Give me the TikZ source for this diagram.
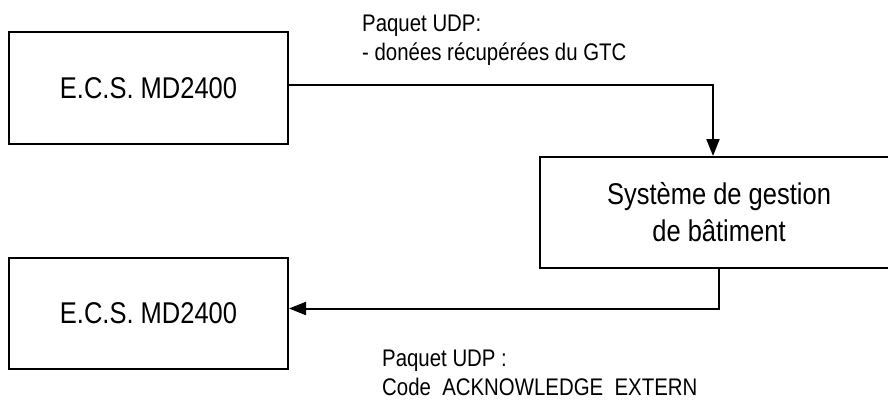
\documentclass[tikz,border=0pt]{standalone}
\usepackage{fontspec}
\setmainfont{Liberation Sans}[FakeStretch=0.85]
\usetikzlibrary{arrows.meta, positioning}

\begin{document}
\begin{tikzpicture}[
  x=1pt, y=-1pt,
  box/.style={
    rectangle,
    draw,
    line width=2pt,
    align=center,
    minimum width=279pt,
    minimum height=111pt,
    font=\fontsize{30}{37}\selectfont
  },
  label/.style={
    anchor=north west,
    inner sep=0pt,
    align=left,
    font=\fontsize{24}{29}\selectfont
  },
  arrow/.style={-{Triangle[length=17pt, width=13pt]}, line width=2pt}
]
\useasboundingbox (0,0) rectangle (888,401);

% Nodes
\node[box] (ecsTop) at (148.5,88) {E.C.S. MD2400};
\node[box, minimum width=358pt] (gestion) at (719,212.5) {Système de gestion\\de bâtiment};
\node[box] (ecsBottom) at (148.5,313.5) {E.C.S. MD2400};

% Arrows
\draw[arrow] ([yshift=3pt]ecsTop.east) -| ([xshift=-6pt]gestion.north);
\draw[arrow] (gestion.south) |- ([yshift=5pt]ecsBottom.east);

% Labels
\node[label] (udpIn) at (362,15) {Paquet UDP:\\- donées récupérées du GTC};
\node[label] (udpOut) at (382,350) {Paquet UDP :\\Code\ \ ACKNOWLEDGE\ \ EXTERN};

\end{tikzpicture}
\end{document}
